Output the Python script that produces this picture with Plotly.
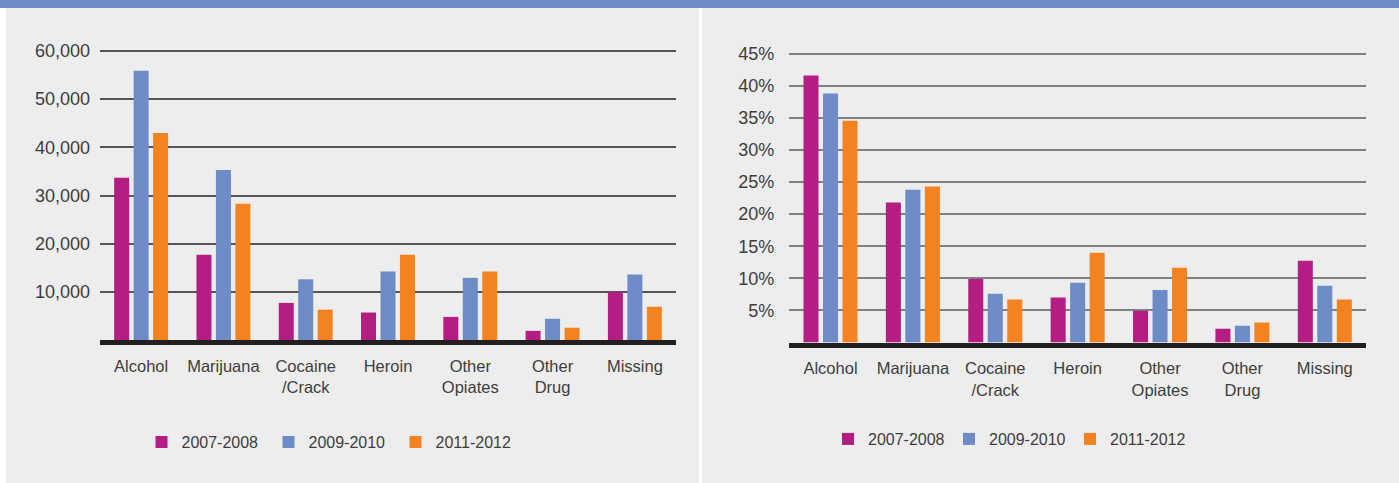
import plotly.graph_objects as go

categories = ["Alcohol", "Marijuana", "Cocaine<br>/Crack", "Heroin",
              "Other<br>Opiates", "Other<br>Drug", "Missing"]
series_names = ["2007-2008", "2009-2010", "2011-2012"]
colors = ["#b41e82", "#6c8bc7", "#f38321"]

counts_2007 = [33700, 17700, 7700, 5700, 4800, 1900, 9900]
counts_2009 = [55900, 35300, 12600, 14200, 12900, 4400, 13600]
counts_2011 = [43000, 28300, 6300, 17700, 14200, 2550, 6900]

pct_2007 = [41.6, 21.8, 9.9, 7.0, 4.95, 2.15, 12.75]
pct_2009 = [38.8, 23.8, 7.6, 9.3, 8.2, 2.6, 8.85]
pct_2011 = [34.55, 24.3, 6.7, 14.0, 11.65, 3.1, 6.7]

count_ticks = [10000, 20000, 30000, 40000, 50000, 60000]
pct_ticks = [5, 10, 15, 20, 25, 30, 35, 40, 45]
pct_ticktext = ["5%", "10%", "15%", "20%", "25%", "30%", "35%", "40%", "45%"]

W, H = 1399, 483
FONT = "Liberation Sans"
TXT = "#3d3d3d"

fig = go.Figure()
for name, vals, col in zip(series_names, [counts_2007, counts_2009, counts_2011], colors):
    fig.add_trace(go.Bar(x=categories, y=vals, name=name, marker_color=col,
                         marker_line_width=0, xaxis="x", yaxis="y", legend="legend"))
for name, vals, col in zip(series_names, [pct_2007, pct_2009, pct_2011], colors):
    fig.add_trace(go.Bar(x=categories, y=vals, name=name, marker_color=col,
                         marker_line_width=0, xaxis="x2", yaxis="y2", legend="legend2"))

def px_x(p):
    return p / W

def px_y(p):
    return 1 - p / H

# left value axis: zero at 340 px, 60,000 at 51 px; range padded slightly so top gridline shows
L_ZERO, L_TOP, L_MAX = 340.0, 51.0, 60000
L_RMAX = 60300
l_top_px = L_ZERO - (L_ZERO - L_TOP) * L_RMAX / L_MAX
# right value axis: zero at 342.5 px, 45% at 53.7 px
R_ZERO, R_TOP, R_MAX = 342.5, 53.7, 45
R_RMAX = 45.2
r_top_px = R_ZERO - (R_ZERO - R_TOP) * R_RMAX / R_MAX

xcommon = dict(showgrid=False, zeroline=False, showline=True, linewidth=5,
               linecolor="#231f20", ticks="", tickfont=dict(family=FONT, size=16.5, color=TXT),
               ticklabelstandoff=7, fixedrange=True, automargin=False)
fig.update_layout(
    width=W, height=H,
    margin=dict(l=0, r=0, t=0, b=0, autoexpand=False),
    paper_bgcolor="white", plot_bgcolor="rgba(0,0,0,0)",
    barmode="group", bargap=0.29, bargroupgap=0.23,
    font=dict(family=FONT, color=TXT),
    xaxis=dict(domain=[px_x(100), px_x(676)], anchor="y", **xcommon),
    yaxis=dict(domain=[px_y(L_ZERO), px_y(l_top_px)], anchor="x", range=[0, L_RMAX],
               tickvals=count_ticks, tickformat=",d", showgrid=True,
               gridcolor="#555555", gridwidth=1.5, zeroline=False, showline=False,
               ticks="", ticklabelstandoff=9, automargin=False,
               tickfont=dict(family=FONT, size=18, color=TXT), fixedrange=True),
    xaxis2=dict(domain=[px_x(789.3), px_x(1366)], anchor="y2", **xcommon),
    yaxis2=dict(domain=[px_y(R_ZERO), px_y(r_top_px)], anchor="x2", range=[0, R_RMAX],
                tickvals=pct_ticks, ticktext=pct_ticktext, showgrid=True,
                gridcolor="#808080", gridwidth=2, zeroline=False, showline=False,
                ticks="", ticklabelstandoff=14, automargin=False,
                tickfont=dict(family=FONT, size=18, color=TXT), fixedrange=True),
    legend=dict(orientation="h", x=px_x(332), y=px_y(442), xanchor="center",
                yanchor="middle", bgcolor="rgba(0,0,0,0)", entrywidth=82,
                font=dict(family=FONT, size=16, color=TXT)),
    legend2=dict(orientation="h", x=px_x(1009.5), y=px_y(439), xanchor="center",
                 yanchor="middle", bgcolor="rgba(0,0,0,0)", entrywidth=76,
                 font=dict(family=FONT, size=16, color=TXT)),
    shapes=[
        dict(type="rect", xref="paper", yref="paper", x0=px_x(6), x1=px_x(699),
             y0=px_y(H), y1=px_y(0), fillcolor="#ededed", line_width=0, layer="below"),
        dict(type="rect", xref="paper", yref="paper", x0=px_x(702), x1=px_x(W),
             y0=px_y(H), y1=px_y(0), fillcolor="#ededed", line_width=0, layer="below"),
        dict(type="rect", xref="paper", yref="paper", x0=0, x1=1,
             y0=px_y(8), y1=1, fillcolor="#6c8bc7", line_width=0, layer="below"),
    ],
)

fig.write_html("out.html", config={"displayModeBar": False},
               post_script="document.body.style.margin='0';document.body.style.padding='0';")
